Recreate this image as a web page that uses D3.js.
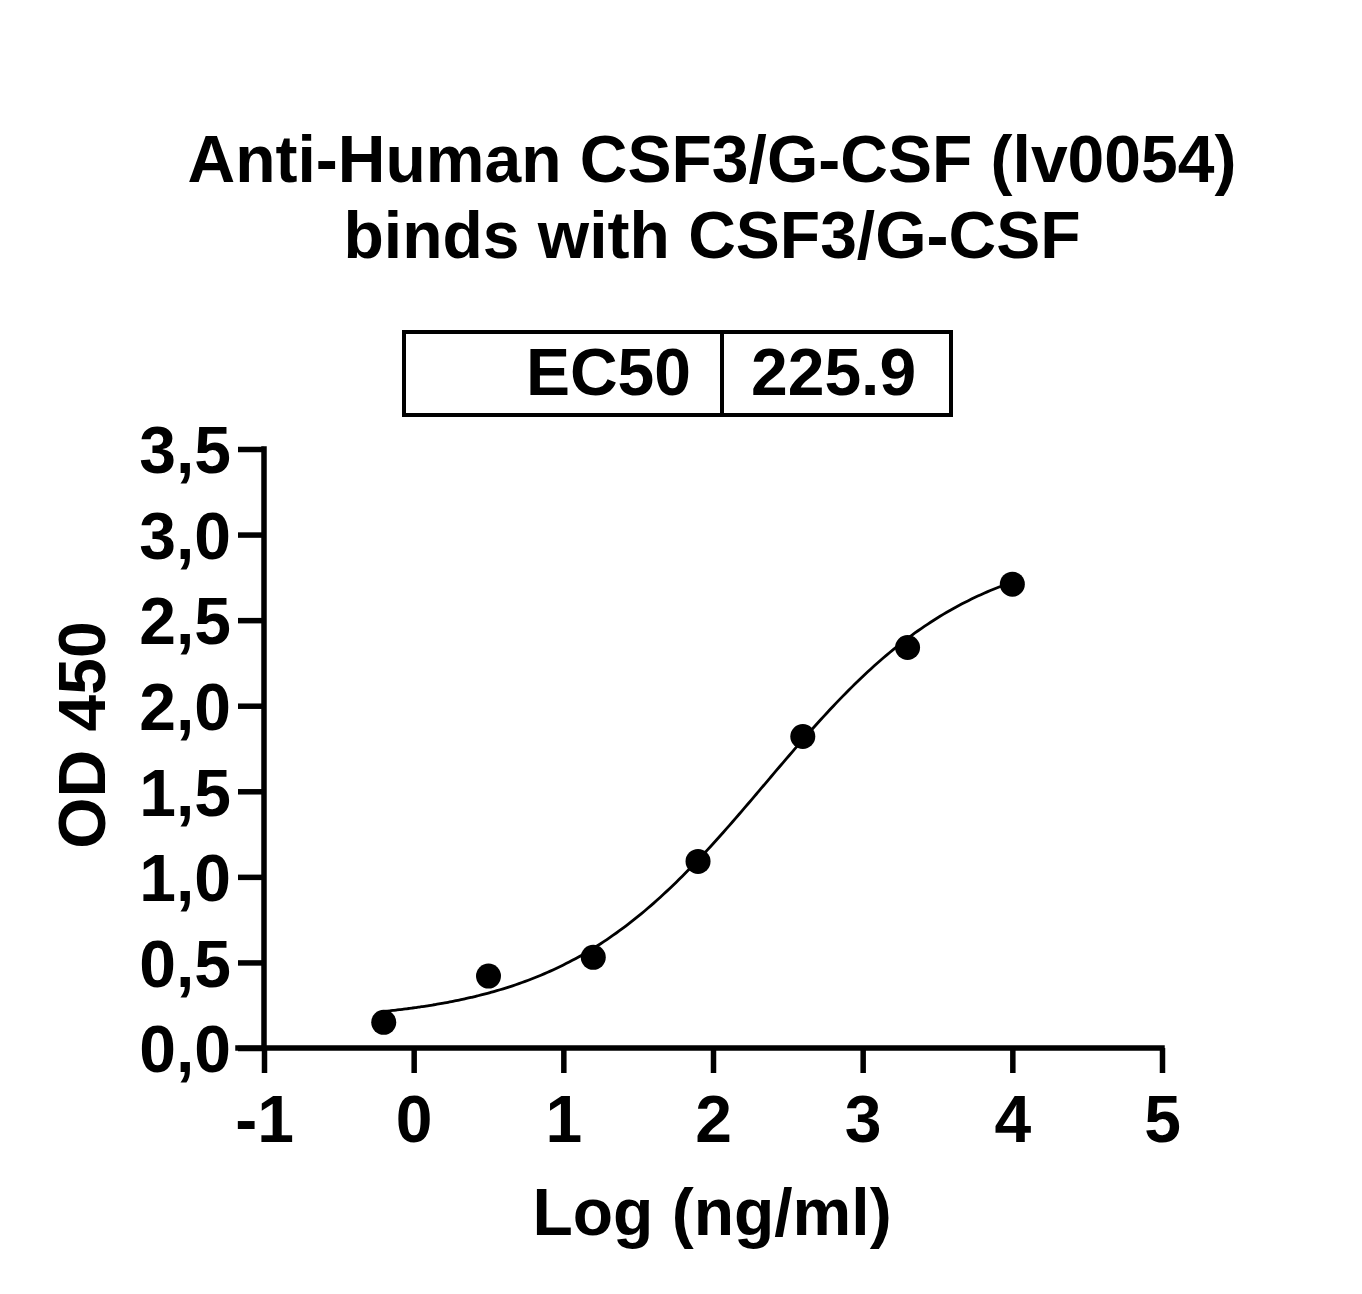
<!DOCTYPE html>
<html><head><meta charset="utf-8">
<script src="https://cdn.jsdelivr.net/npm/d3@7"></script>
<style>body{margin:0;background:#fff;} text{font-family:"Liberation Sans",Arial,sans-serif;font-weight:bold;fill:#000;}</style>
</head><body>
<svg id="c" width="1362" height="1294"></svg>
<script>
const titleLines = ["Anti-Human CSF3/G-CSF (lv0054)", "binds with CSF3/G-CSF"];
const logConc = [-0.2, 0.5, 1.2, 1.9, 2.6, 3.3, 4.0];
const od450 = [0.15, 0.42, 0.53, 1.09, 1.82, 2.34, 2.71];
const xTicks = [-1, 0, 1, 2, 3, 4, 5];
const yTicks = [0, 0.5, 1.0, 1.5, 2.0, 2.5, 3.0, 3.5];
const ec50Label = "EC50", ec50Value = "225.9";
// 4PL fit parameters
const fitBottom = 0.15, fitTop = 2.95, fitLogEC50 = Math.log10(225.9), fitHill = 0.64;

const FS = 66;
const svg = d3.select("#c");
const x = d3.scaleLinear().domain([-1, 5]).range([264, 1162]);
const y = d3.scaleLinear().domain([0, 3.5]).range([1048, 449]);

// title
svg.selectAll("text.title").data(titleLines).enter().append("text")
  .attr("x", 712).attr("y", (d,i)=>182 + i*76).attr("text-anchor","middle")
  .attr("font-size", FS).text(d=>d);

// EC50 box
const box = svg.append("g");
box.append("rect").attr("x",404).attr("y",332).attr("width",547).attr("height",83)
  .attr("fill","none").attr("stroke","#000").attr("stroke-width",4);
box.append("line").attr("x1",722).attr("x2",722).attr("y1",332).attr("y2",415)
  .attr("stroke","#000").attr("stroke-width",4);
box.append("text").attr("x",691).attr("y",395).attr("text-anchor","end").attr("font-size",FS).text(ec50Label);
box.append("text").attr("x",751).attr("y",395).attr("text-anchor","start").attr("font-size",FS).text(ec50Value);

// axes
const xAxis = d3.axisBottom(x).tickValues(xTicks).tickSize(25).tickPadding(22).tickFormat(d=>String(d));
const gx = svg.append("g").attr("transform","translate(0,1048)").call(xAxis);
gx.select(".domain").attr("d", `M238,0H${x(5)}`);
const yAxis = d3.axisLeft(y).tickValues(yTicks).tickSize(26).tickPadding(7)
  .tickFormat(d=>d3.format(".1f")(d).replace(".",","));
const gy = svg.append("g").attr("transform","translate(264,0)").call(yAxis);
gy.select(".domain").attr("d", `M0,${y(3.5)}V${y(0)}`);
[gx, gy].forEach(g=>{
  g.selectAll("path,line").attr("stroke","#000").attr("stroke-width",5.5).attr("stroke-linecap","square");
  g.selectAll("text").attr("font-size",FS).attr("font-family",'"Liberation Sans",Arial,sans-serif').attr("font-weight","bold").attr("fill","#000");
});
gx.selectAll(".tick line").attr("stroke-linecap","butt");
gy.selectAll(".tick line").attr("stroke-linecap","butt");
gx.selectAll("text").attr("dy", "0.71em");
gy.selectAll("text").attr("dy","0.36em");

// axis titles
svg.append("text").attr("x",712).attr("y",1235).attr("text-anchor","middle").attr("font-size",FS).text("Log (ng/ml)");
svg.append("text").attr("transform","translate(105,735) rotate(-90)").attr("text-anchor","middle").attr("font-size",FS).text("OD 450");

// fit curve
const fx = d3.range(0, 201).map(i => -0.2 + i*(4.2/200));
const f = v => fitBottom + (fitTop - fitBottom)/(1 + Math.pow(10, (fitLogEC50 - v)*fitHill));
svg.append("path").datum(fx).attr("fill","none").attr("stroke","#000").attr("stroke-width",2.8)
  .attr("d", d3.line().x(d=>x(d)).y(d=>y(f(d))).curve(d3.curveBasis));

// points
svg.selectAll("circle.pt").data(logConc).enter().append("circle")
  .attr("cx", d=>x(d)).attr("cy",(d,i)=>y(od450[i])).attr("r",12.5).attr("fill","#000");
</script>
</body></html>
